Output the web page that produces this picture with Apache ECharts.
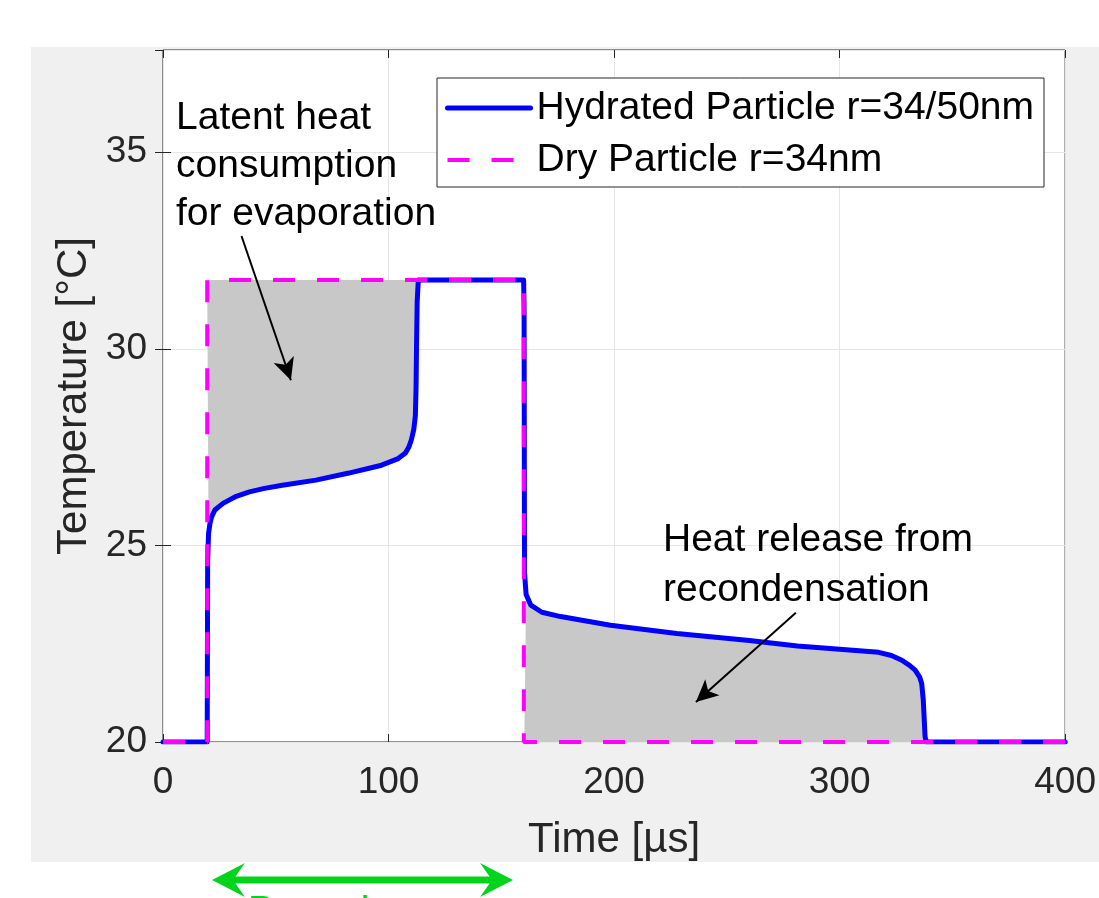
<!DOCTYPE html>
<html>
<head>
<meta charset="utf-8">
<script src="https://cdn.jsdelivr.net/npm/echarts@6/dist/echarts.min.js"></script>
<style>
  html, body { margin: 0; padding: 0; background: #fff; }
  #chart { width: 1099px; height: 898px; }
</style>
</head>
<body>
<div id="chart"></div>
<script>
// time axis [µs] and temperatures [°C]
const hydTime = [0, 19.6, 19.8, 20.2, 20.8, 21.5, 23, 26.6, 32.5, 38.3, 45, 52.9, 67.8, 82.4, 96.9, 104, 107.5, 109, 110.1, 111.2, 111.9, 112.2, 112.4, 112.7, 113.2, 159.9, 160.1, 160.3, 161.0, 163.1, 168, 176.3, 198.4, 227.8, 260, 281.3, 300, 317.3, 323, 327.6, 331, 333.5, 335.5, 336.4, 337.1, 337.5, 337.9, 338.5, 400]
const hydTemp = [20, 20, 24.6, 25.3, 25.55, 25.72, 25.9, 26.07, 26.25, 26.36, 26.45, 26.53, 26.66, 26.84, 27.04, 27.2, 27.35, 27.5, 27.68, 27.95, 28.3, 29.0, 30.0, 31.2, 31.75, 31.75, 31.0, 24.3, 23.75, 23.48, 23.3, 23.19, 22.97, 22.76, 22.58, 22.44, 22.36, 22.28, 22.2, 22.08, 21.95, 21.83, 21.65, 21.49, 21.07, 20.6, 20.13, 20, 20]

const dryTime = [0, 19.6, 19.6, 160, 160, 400]
const dryTemp = [20, 20, 31.75, 31.75, 20, 20]

const xTicks = [0, 100, 200, 300, 400]
const yTicks = [20, 25, 30, 35]
const yMax = 37.6

const seriesNames = ['Hydrated Particle r=34/50nm', 'Dry Particle r=34nm']

const hydData = hydTime.map((t, i) => [t, hydTemp[i]])
const dryData = dryTime.map((t, i) => [t, dryTemp[i]])

// shaded areas between both curves
const fillEvap = [[19.6, 31.75]].concat(hydData.filter(p => p[0] >= 19.6 && p[0] <= 113.2 && p[1] > 25))
const fillCond = hydData.filter(p => p[0] >= 160.2 && p[0] <= 338.5 && p[1] < 24).concat([[338.5, 20], [160.2, 20]])

const FONT = '"Liberation Sans", Arial, Helvetica, sans-serif'
const AX = '#262626'
const GREEN = '#00d41c'

const chart = echarts.init(document.getElementById('chart'))

const tickAxis = {
  axisLine: { show: false },
  axisTick: { show: true, inside: true, length: 8, lineStyle: { color: AX } },
  splitLine: { show: false }
}

chart.setOption({
  animation: false,
  backgroundColor: 'transparent',
  textStyle: { fontFamily: FONT },
  grid: {
    left: 163, top: 50, right: 28, bottom: 156,
    show: true, backgroundColor: '#fff', borderColor: AX, borderWidth: 1
  },
  legend: {
    data: [
      { name: seriesNames[0], itemStyle: { opacity: 0 }, lineStyle: { width: 5, opacity: 1 } },
      { name: seriesNames[1], itemStyle: { opacity: 0 }, lineStyle: { width: 4, opacity: 1 } }
    ],
    orient: 'vertical',
    left: 437, top: 78,
    padding: [8, 10, 5, 8],
    itemGap: 8,
    itemWidth: 83, itemHeight: 14,
    backgroundColor: '#fff',
    borderColor: AX, borderWidth: 1, borderRadius: 0,
    textStyle: { fontSize: 39, color: '#000', fontFamily: FONT, lineHeight: 44, padding: [0, 0, 0, 1] }
  },
  xAxis: [
    Object.assign({}, tickAxis, {
      type: 'value', min: xTicks[0], max: xTicks[xTicks.length - 1], interval: 100,
      name: 'Time [µs]', nameLocation: 'middle', nameGap: 77,
      nameTextStyle: { fontSize: 42, color: AX, fontFamily: FONT },
      axisLabel: { fontSize: 37, color: AX, margin: 22, fontFamily: FONT },
      splitLine: { show: true, lineStyle: { color: '#e6e6e6', width: 1 } }
    }),
    Object.assign({}, tickAxis, {
      type: 'value', position: 'top', min: 0, max: 400, interval: 100,
      axisLabel: { show: false }
    })
  ],
  yAxis: [
    Object.assign({}, tickAxis, {
      type: 'value', min: yTicks[0], max: yMax, interval: 5,
      name: 'Temperature [°C]', nameLocation: 'middle', nameGap: 68,
      nameTextStyle: { fontSize: 42, color: AX, fontFamily: FONT },
      axisLabel: {
        fontSize: 37, color: AX, margin: 16, fontFamily: FONT, showMaxLabel: false,
        formatter: v => (yTicks.indexOf(v) >= 0 ? String(v) : '')
      },
      splitLine: { show: true, lineStyle: { color: '#e6e6e6', width: 1 } }
    }),
    Object.assign({}, tickAxis, {
      type: 'value', position: 'right', min: 20, max: yMax, interval: 5,
      axisLabel: { show: false }
    })
  ],
  graphic: [
    { type: 'rect', z: -100, left: 31, top: 47, shape: { width: 1068, height: 815 }, style: { fill: '#f0f0f0' } },
    {
      type: 'text', left: 176, top: 94, z: 50,
      style: { text: 'Latent heat\nconsumption\nfor evaporation', fontSize: 39, lineHeight: 48, fill: '#000', fontFamily: FONT }
    },
    {
      type: 'text', left: 663, top: 515, z: 50,
      style: { text: 'Heat release from\nrecondensation', fontSize: 39, lineHeight: 50, fill: '#000', fontFamily: FONT }
    },
    // pump pulse arrow below the axes
    { type: 'line', shape: { x1: 230, y1: 880, x2: 495, y2: 880 }, style: { stroke: GREEN, lineWidth: 7 } },
    { type: 'polygon', shape: { points: [[212, 880], [245, 863], [233, 880], [245, 897]] }, style: { fill: GREEN } },
    { type: 'polygon', shape: { points: [[513, 880], [480, 863], [492, 880], [480, 897]] }, style: { fill: GREEN } },
    { type: 'text', left: 248, top: 893, style: { text: 'Pump laser', fontSize: 39, fill: GREEN, fontFamily: FONT } }
  ],
  series: [
    {
      type: 'custom',
      silent: true,
      z: 1,
      data: [[0, 20]],
      renderItem: (params, api) => ({
        type: 'group',
        children: [fillEvap, fillCond].map(pts => ({
          type: 'polygon',
          shape: { points: pts.map(p => api.coord(p)) },
          style: { fill: '#c8c8c8' }
        }))
      })
    },
    {
      name: seriesNames[0],
      type: 'line',
      z: 3,
      data: hydData,
      symbol: 'none',
      lineStyle: { color: '#0000ff', width: 5, join: 'round', cap: 'round' },
      itemStyle: { color: '#0000ff' },
      markLine: {
        silent: true,
        symbol: ['none', 'arrow'],
        symbolSize: [16, 22],
        label: { show: false },
        lineStyle: { color: '#000', width: 2, type: 'solid' },
        data: [
          [{ coord: [34.8, 32.87] }, { coord: [56.7, 29.2] }],
          [{ coord: [280.6, 23.29] }, { coord: [236.3, 21.02] }]
        ]
      }
    },
    {
      name: seriesNames[1],
      type: 'line',
      z: 4,
      data: dryData,
      symbol: 'none',
      lineStyle: { color: '#ff00ff', width: 4, type: [22, 22] },
      itemStyle: { color: '#ff00ff' }
    }
  ]
})
</script>
</body>
</html>
